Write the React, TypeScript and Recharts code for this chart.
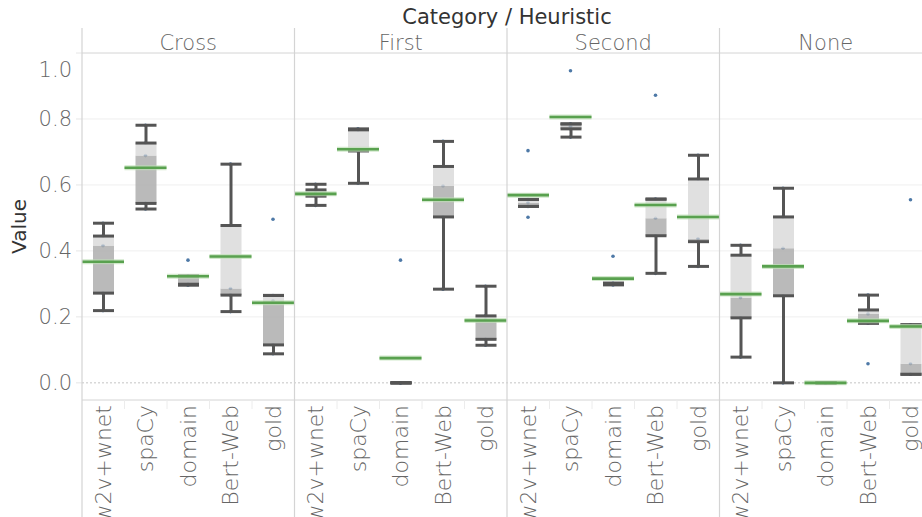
import React from "react";
import { ComposedChart, Bar, XAxis, YAxis, CartesianGrid, ReferenceLine } from "recharts";

const panes = ["Cross", "First", "Second", "None"];
const methods = ["w2v+wnet", "spaCy", "domain", "Bert-Web", "gold"];
const yTicks = [0, 0.2, 0.4, 0.6, 0.8, 1.0];

// order: Cross (5 methods), First (5), Second (5), None (5)
const whiskerLow = [
  0.219, 0.527, 0.296, 0.216, 0.088,
  0.538, 0.605, 0.0, 0.284, 0.114,
  0.535, 0.745, 0.297, 0.332, 0.353,
  0.078, 0.0, 0.0, 0.181, 0.026,
];
const lowerHinge = [
  0.272, 0.544, 0.299, 0.266, 0.115,
  0.566, 0.703, 0.0, 0.503, 0.132,
  0.535, 0.77, 0.299, 0.446, 0.428,
  0.197, 0.264, 0.0, 0.181, 0.026,
];
const medians = [
  0.416, 0.689, 0.324, 0.286, 0.249,
  0.575, 0.706, 0.0, 0.597, 0.191,
  0.546, 0.778, 0.3, 0.499, 0.437,
  0.258, 0.408, 0.0, 0.209, 0.058,
];
const upperHinge = [
  0.445, 0.727, 0.324, 0.477, 0.265,
  0.585, 0.767, 0.0, 0.656, 0.203,
  0.556, 0.785, 0.302, 0.557, 0.618,
  0.387, 0.503, 0.0, 0.221, 0.176,
];
const whiskerHigh = [
  0.484, 0.781, 0.324, 0.663, 0.265,
  0.602, 0.77, 0.0, 0.732, 0.293,
  0.556, 0.785, 0.302, 0.557, 0.69,
  0.417, 0.59, 0.0, 0.266, 0.176,
];
const means = [
  0.367, 0.652, 0.323, 0.383, 0.243,
  0.573, 0.708, 0.075, 0.555, 0.189,
  0.569, 0.806, 0.316, 0.539, 0.503,
  0.269, 0.353, 0.0, 0.188, 0.171,
];
const points = [
  [0.484, 0.445, 0.416, 0.272, 0.219],
  [0.781, 0.727, 0.689, 0.544, 0.527],
  [0.372, 0.324, 0.324, 0.299, 0.296],
  [0.663, 0.477, 0.286, 0.266, 0.216],
  [0.496, 0.265, 0.249, 0.115, 0.088],
  [0.602, 0.585, 0.575, 0.566, 0.538],
  [0.77, 0.767, 0.706, 0.703, 0.605],
  [0.372, 0.0, 0.0, 0.0, 0.0],
  [0.732, 0.656, 0.597, 0.503, 0.284],
  [0.293, 0.203, 0.191, 0.132, 0.114],
  [0.704, 0.556, 0.546, 0.535, 0.502],
  [0.946, 0.785, 0.778, 0.77, 0.745],
  [0.384, 0.302, 0.3, 0.299, 0.297],
  [0.872, 0.557, 0.499, 0.446, 0.332],
  [0.69, 0.618, 0.437, 0.428, 0.353],
  [0.417, 0.387, 0.258, 0.197, 0.078],
  [0.59, 0.503, 0.408, 0.264, 0.0],
  [0.0, 0.0, 0.0, 0.0, 0.0],
  [0.266, 0.221, 0.209, 0.181, 0.058],
  [0.555, 0.176, 0.058, 0.026, 0.026],
];

const keys: string[] = [];
panes.forEach((p) => methods.forEach((m) => keys.push(`${p}|${m}`)));

const pos = (v: number) => Math.max(0, v);
const table = keys.map((key, i) => {
  const row: any = {
    key,
    base: whiskerLow[i],
    wl: pos(lowerHinge[i] - whiskerLow[i]),
    dk: pos(medians[i] - lowerHinge[i]),
    lt: pos(upperHinge[i] - medians[i]),
    wu: pos(whiskerHigh[i] - upperHinge[i]),
    mean: means[i],
  };
  points[i].forEach((v, j) => (row[`p${j}`] = v));
  return row;
});

const W = 940;
const H = 517;
const Y_W = 82;
const X_H = 117;
const TOP = 53;
const RIGHT = 8;
const PLOT_L = Y_W;
const PLOT_R = W - RIGHT;
const PLOT_B = H - X_H;
const BAND = (PLOT_R - PLOT_L) / keys.length;

const FONT = "'DejaVu Sans', 'Open Sans', sans-serif";
const INK = "#555555";
const GRAY_TXT = "#666666";
const DIV = "#d4d4d4";

const norm = (p: any) => {
  const top = Math.min(p.y, p.y + p.height);
  const bot = Math.max(p.y, p.y + p.height);
  return { top, bot, left: p.x, w: p.width, cx: p.x + p.width / 2 };
};

const Empty = () => <g />;
const WhiskerLow = (p: any) => {
  const { top, bot, left, w, cx } = norm(p);
  return (
    <g>
      <line x1={cx} x2={cx} y1={top} y2={bot} stroke={INK} strokeWidth={3} />
      <line x1={left} x2={left + w} y1={bot} y2={bot} stroke={INK} strokeWidth={3} />
    </g>
  );
};
const WhiskerHigh = (p: any) => {
  const { top, bot, left, w, cx } = norm(p);
  return (
    <g>
      <line x1={cx} x2={cx} y1={top} y2={bot} stroke={INK} strokeWidth={3} />
      <line x1={left} x2={left + w} y1={top} y2={top} stroke={INK} strokeWidth={3} />
    </g>
  );
};
const DarkBox = (p: any) => {
  const { top, bot, left, w } = norm(p);
  return (
    <g>
      <rect x={left} y={top} width={w} height={bot - top} fill="#aeaeae" fillOpacity={0.85} />
      <line x1={left} x2={left + w} y1={bot} y2={bot} stroke={INK} strokeWidth={3} />
    </g>
  );
};
const LightBox = (p: any) => {
  const { top, bot, left, w } = norm(p);
  return (
    <g>
      <rect x={left} y={top} width={w} height={bot - top} fill="#dadada" fillOpacity={0.85} />
      <line x1={left} x2={left + w} y1={top} y2={top} stroke={INK} strokeWidth={3} />
    </g>
  );
};
const MeanLine = (p: any) => {
  const { left, w } = norm(p);
  return (
    <g>
      <line x1={left} x2={left + w} y1={p.y} y2={p.y} stroke="#bfe0b6" strokeWidth={5} strokeOpacity={0.7} />
      <line x1={left} x2={left + w} y1={p.y} y2={p.y} stroke="#59a14f" strokeWidth={2.6} />
    </g>
  );
};
const Dot = (p: any) => {
  const { cx } = norm(p);
  return <circle cx={cx} cy={p.y} r={1.8} fill="#4e79a7" />;
};

const XTick = (props: any) => {
  const { x, index, payload } = props;
  const label = String(payload.value).split("|")[1];
  const mIdx = index % methods.length;
  const pIdx = Math.floor(index / methods.length);
  const left = x - BAND / 2;
  const ly = PLOT_B + 5;
  return (
    <g>
      {index === 0 ? (
        <g>
          <text x={(PLOT_L + PLOT_R) / 2} y={24} textAnchor="middle" fontFamily={FONT} fontSize={21} fontWeight={400} fill="#333333">
            Category / Heuristic
          </text>
          <text transform={`rotate(-90, 19, ${(TOP + PLOT_B) / 2})`} x={19} y={(TOP + PLOT_B) / 2} textAnchor="middle" dominantBaseline="central" fontFamily={FONT} fontSize={20} fontWeight={400} fill="#333333">
            Value
          </text>
        </g>
      ) : null}
      {mIdx === 0 ? (
        <line x1={left} x2={left} y1={28} y2={H} stroke={DIV} strokeWidth={1.2} />
      ) : (
        <line x1={left} x2={left} y1={PLOT_B} y2={PLOT_B + 9} stroke="#ececec" />
      )}
      {mIdx === 2 ? (
        <text x={x} y={50} textAnchor="middle" fontFamily={FONT} fontSize={21} fontWeight={300} fill={GRAY_TXT}>
          {panes[pIdx]}
        </text>
      ) : null}
      <text transform={`rotate(-90, ${x}, ${ly})`} x={x} y={ly} textAnchor="end" dominantBaseline="central" fontFamily={FONT} fontSize={22} fontWeight={300} fill={GRAY_TXT}>
        {label}
      </text>
    </g>
  );
};

const YTick = (props: any) => {
  const { x, y, payload } = props;
  const v = Number(payload.value);
  const shift = v >= 1 ? 17 : 0;
  return (
    <text x={x} y={y + shift} textAnchor="end" dominantBaseline="central" fontFamily={FONT} fontSize={21} fontWeight={300} fill={GRAY_TXT}>
      {v.toFixed(1)}
    </text>
  );
};

const pointKeys = [0, 1, 2, 3, 4].map((j) => `p${j}`);

export default function App() {
  return (
    <div style={{ position: "absolute", left: 0, top: 0, width: 922, height: 517, overflow: "hidden", background: "#ffffff" }}>
      <ComposedChart width={W} height={H} data={table} margin={{ top: TOP, right: RIGHT, bottom: 0, left: 0 }}>
        <CartesianGrid horizontal vertical={false} stroke="#efefef" horizontalValues={[0.2, 0.4, 0.6, 0.8]} />
        <CartesianGrid horizontal vertical={false} stroke="#c4c4c4" strokeDasharray="2 2" horizontalValues={[0]} />
        <XAxis xAxisId={0} dataKey="key" interval={0} tick={<XTick />} tickLine={false} axisLine={{ stroke: DIV }} height={X_H} />
        {pointKeys.map((k) => (
          <XAxis key={k} xAxisId={k} dataKey="key" hide />
        ))}
        <XAxis xAxisId="mean" dataKey="key" hide />
        <YAxis type="number" domain={[-0.052, 1]} ticks={yTicks} width={Y_W} tick={<YTick />} tickLine={{ stroke: "#e6e6e6" }} tickSize={6} tickMargin={4} axisLine={false} allowDataOverflow />
        <ReferenceLine y={1} stroke={DIV} />
        {pointKeys.map((k) => (
          <Bar key={k} xAxisId={k} dataKey={k} barSize={10} shape={<Dot />} isAnimationActive={false} />
        ))}
        <Bar dataKey="base" stackId="box" barSize={21} shape={<Empty />} isAnimationActive={false} />
        <Bar dataKey="wl" stackId="box" barSize={21} shape={<WhiskerLow />} isAnimationActive={false} />
        <Bar dataKey="dk" stackId="box" barSize={21} shape={<DarkBox />} isAnimationActive={false} />
        <Bar dataKey="lt" stackId="box" barSize={21} shape={<LightBox />} isAnimationActive={false} />
        <Bar dataKey="wu" stackId="box" barSize={21} shape={<WhiskerHigh />} isAnimationActive={false} />
        <Bar xAxisId="mean" dataKey="mean" barSize={42} shape={<MeanLine />} isAnimationActive={false} />
      </ComposedChart>
    </div>
  );
}
